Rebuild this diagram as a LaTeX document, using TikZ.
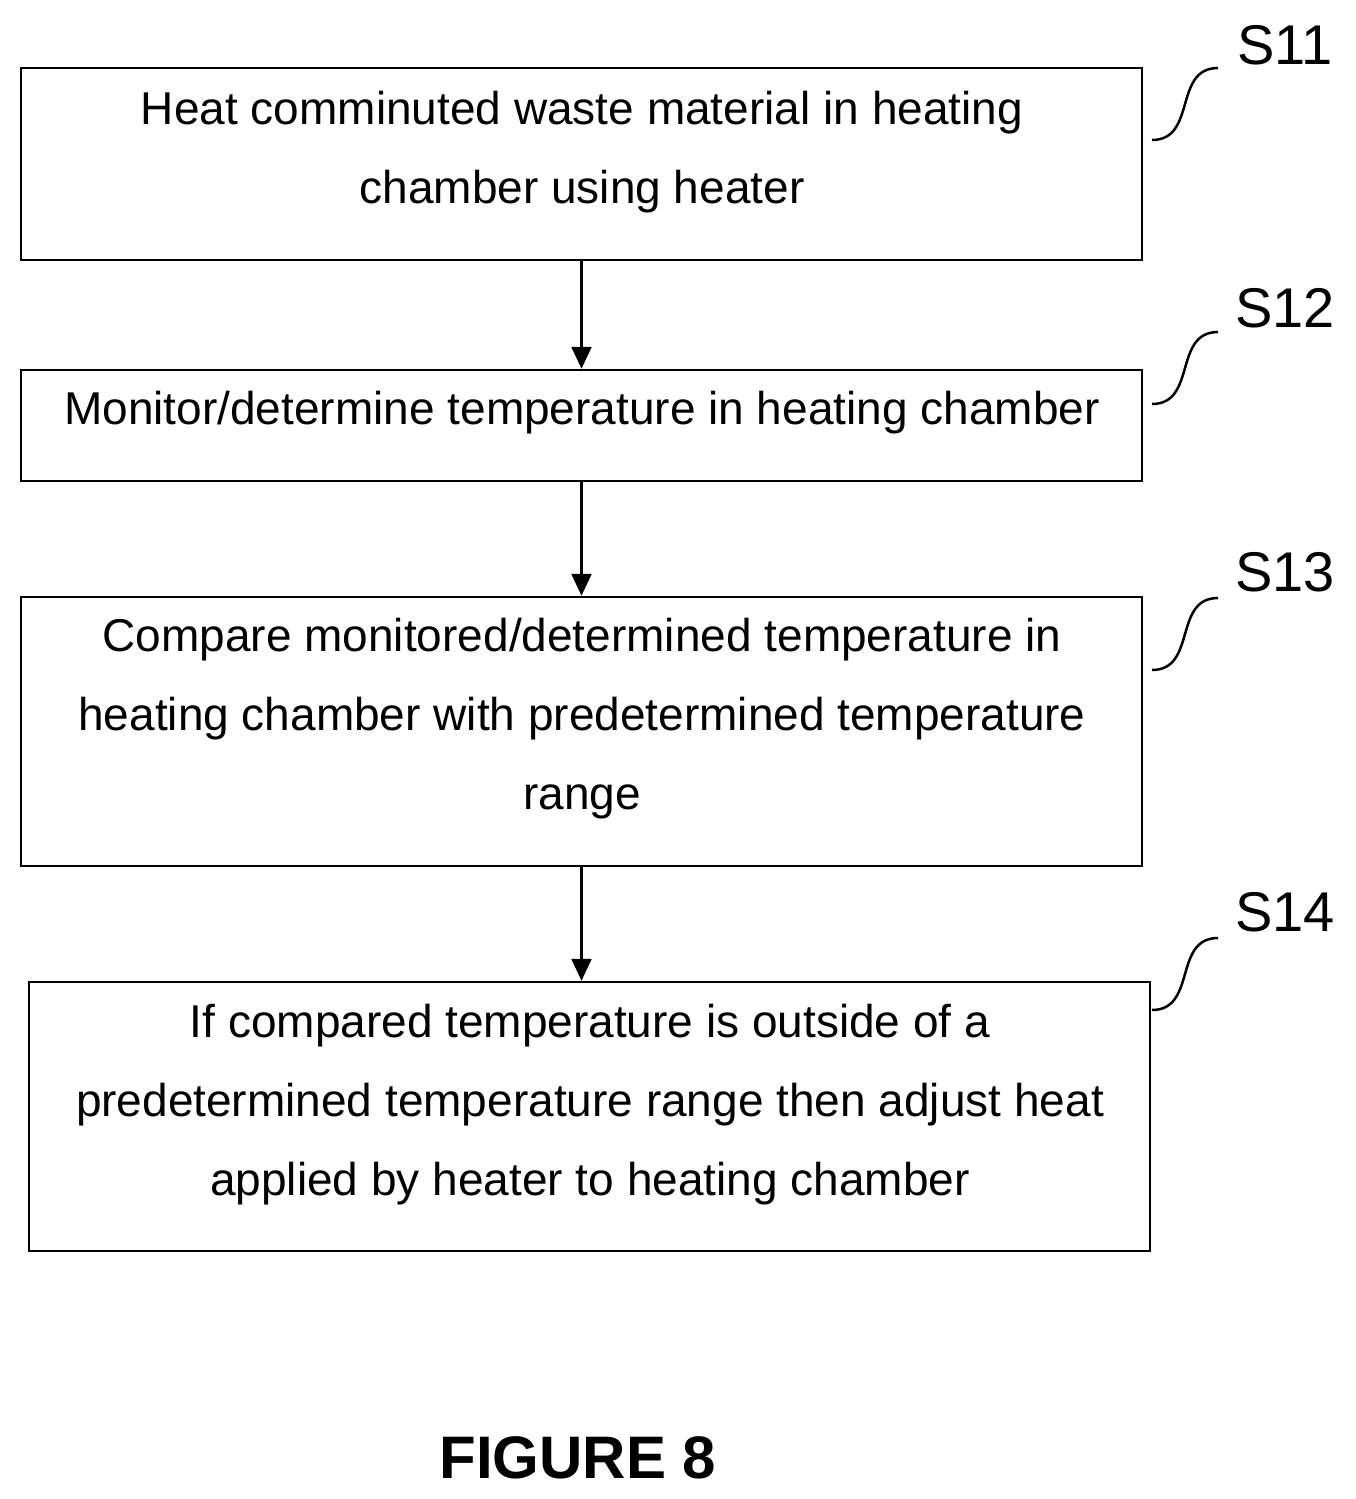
\documentclass[tikz,border=0pt]{standalone}
\usepackage{fontspec}
\setmainfont{Liberation Sans}
\usetikzlibrary{arrows.meta,calc}
\begin{document}
\begin{tikzpicture}[x=1pt,y=-1pt,
  box/.style={draw,line width=2.5pt,rectangle,inner sep=0pt},
  txt/.style={align=center,font=\fontsize{46}{79}\selectfont},
  lbl/.style={font=\fontsize{56}{60}\selectfont,anchor=center},
  arr/.style={line width=2.5pt,-{Triangle[length=22pt,width=20pt]}},
  sq/.style={line width=2.5pt}]
\useasboundingbox (0,0) rectangle (1355,1499);
\node[box,minimum width=1121pt,minimum height=192pt] (b1) at (581.5,164) {};
\node[box,minimum width=1121pt,minimum height=111pt] (b2) at (581.5,425.5) {};
\node[box,minimum width=1121pt,minimum height=269pt] (b3) at (581.5,731.5) {};
\node[box,minimum width=1121pt,minimum height=269pt] (b4) at (589.5,1116.5) {};
\node[txt] (t1) at (582,152) {Heat comminuted waste material in heating\\chamber using heater};
\node[txt] (t2) at (582,413) {Monitor/determine temperature in heating chamber};
\node[txt] (t3) at (582,719) {Compare monitored/determined temperature in\\heating chamber with predetermined temperature\\range};
\node[txt] (t4) at (590,1105) {If compared temperature is outside of a\\predetermined temperature range then adjust heat\\applied by heater to heating chamber};
\draw[arr] (b1.south) -- (b2.north);
\draw[arr] (b2.south) -- (b3.north);
\draw[arr] (b3.south) -- (b3.south |- b4.north);
\node[lbl] (l1) at (1285,45) {S11};
\node[lbl] (l2) at (1285,308) {S12};
\node[lbl] (l3) at (1285,572) {S13};
\node[lbl] (l4) at (1285,912) {S14};
\coordinate (a1) at (1152,140); \coordinate (e1) at (1218,68);
\coordinate (a2) at (1152,404); \coordinate (e2) at (1218,332);
\coordinate (a3) at (1152,670); \coordinate (e3) at (1218,598);
\coordinate (a4) at (1152,1010); \coordinate (e4) at (1218,938);
\foreach \i in {1,2,3,4}{
  \draw[sq] (a\i) .. controls ($(a\i)+(45,0)$) and ($(e\i)+(-45,0)$) .. (e\i);
}
\node[font=\bfseries\fontsize{60}{66}\selectfont] (fig) at (578,1458) {FIGURE 8};
\end{tikzpicture}
\end{document}
